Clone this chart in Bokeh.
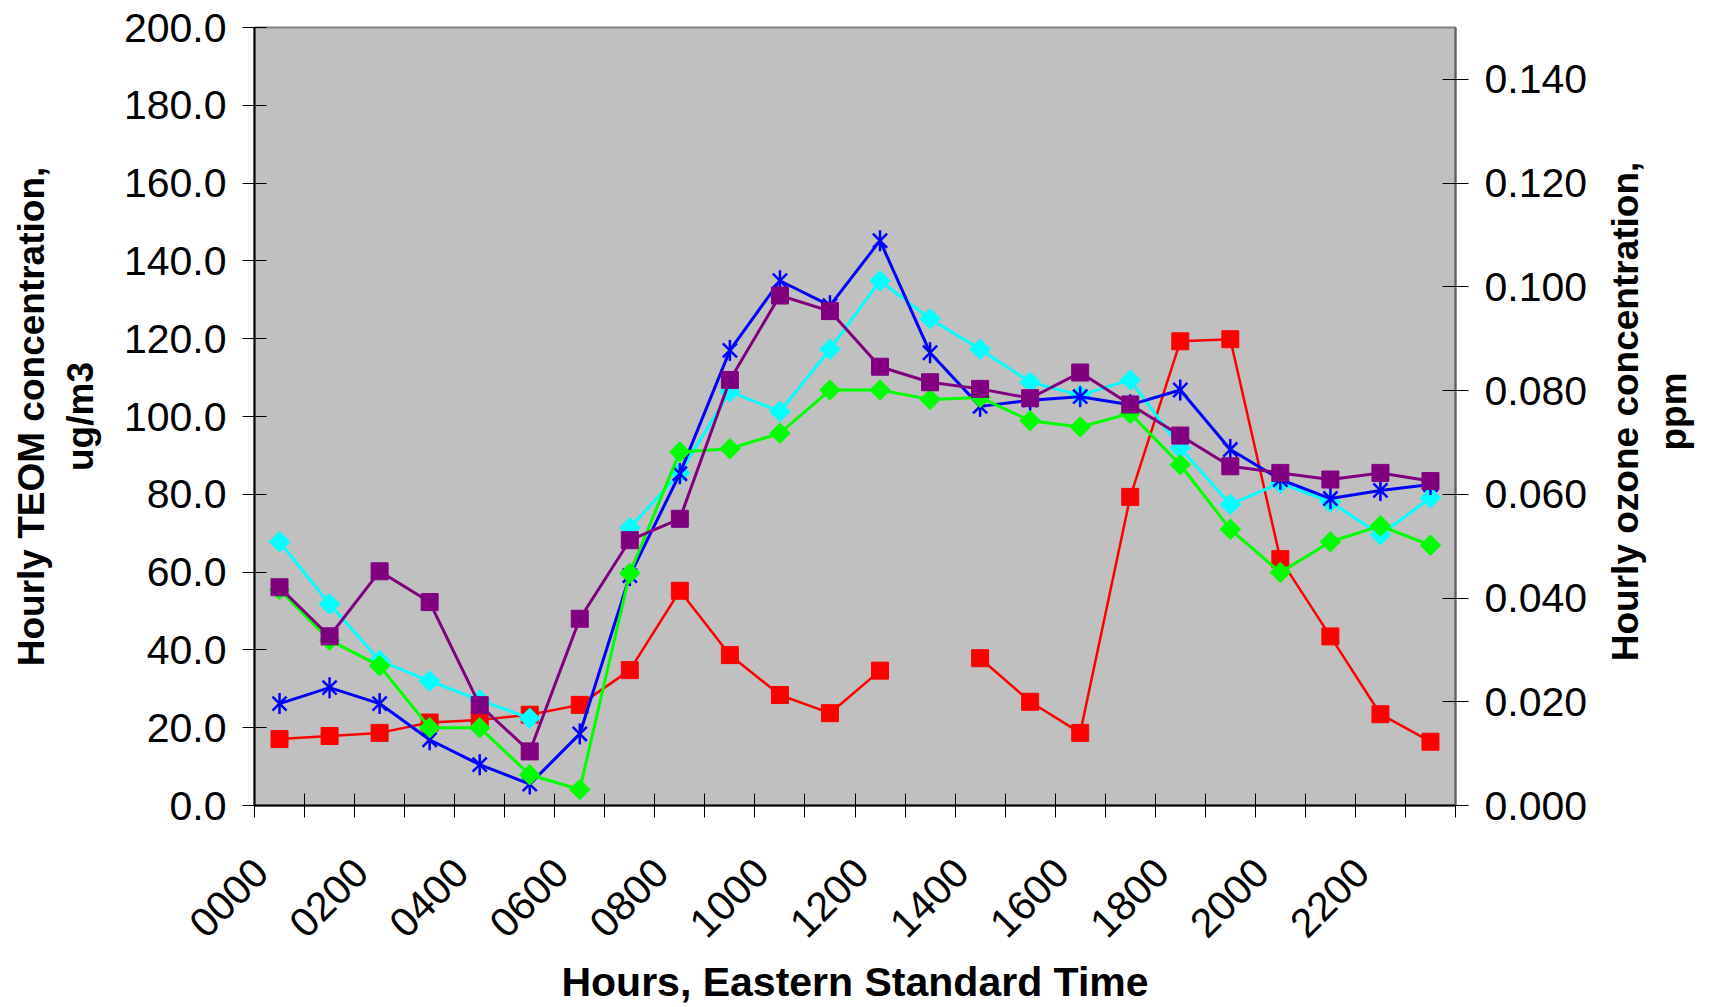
import numpy as np
from bokeh.plotting import figure
from bokeh.models import Range1d, LinearAxis, FixedTicker, NumeralTickFormatter, ColumnDataSource, Label
from bokeh.embed import file_html
from bokeh.resources import INLINE

# ---------------- data ----------------
hours = list(range(24))
hour_labels = ["0000", "0200", "0400", "0600", "0800", "1000",
               "1200", "1400", "1600", "1800", "2000", "2200"]
label_hours = [0, 2, 4, 6, 8, 10, 12, 14, 16, 18, 20, 22]

# Hourly TEOM concentration, ug/m3 (left axis)
teom_cyan = [67.8, 51.8, 37.3, 32.0, 27.1, 22.4, np.nan, 71.4, 85.5, 106.4, 101.3, 117.3,
             134.9, 125.1, 117.3, 108.8, 105.5, 109.4, 91.9, 77.4, 82.9, 78.0, 69.6, 79.1]
teom_blue = [26.2, 30.3, 26.2, 16.9, 10.5, 5.5, 18.4, 59.1, 85.3, 117.0, 134.9, 128.5,
             145.2, 116.4, 102.6, 104.2, 105.1, 103.0, 106.8, 91.5, 83.8, 78.9, 81.0, 82.5]
teom_green = [55.5, 42.5, 35.9, 20.0, 20.0, 7.9, 4.1, 59.7, 90.9, 91.7, 95.7, 106.8,
              106.8, 104.4, 104.9, 98.9, 97.3, 100.8, 87.6, 71.0, 59.9, 67.8, 71.9, 66.9]
teom_purple = [56.1, 43.5, 60.2, 52.3, 25.8, 13.9, 48.0, 68.2, 73.7, 109.4, 131.1, 127.1,
               112.8, 108.8, 107.1, 104.7, 111.3, 103.1, 95.1, 87.2, 85.5, 83.8, 85.5, 83.4]

# Hourly ozone concentration, ppm (right axis)
ozone_red = [0.0128, 0.0134, 0.0140, 0.0160, 0.0165, 0.0175, 0.0194, 0.0261, 0.0414, 0.0290,
             0.0213, 0.0178, 0.0260, np.nan, 0.0284, 0.0200, 0.0140, 0.0595, 0.0895, 0.0899,
             0.0475, 0.0326, 0.0176, 0.0123]

left_ticks = [0, 20, 40, 60, 80, 100, 120, 140, 160, 180, 200]
right_ticks = [0.0, 0.02, 0.04, 0.06, 0.08, 0.10, 0.12, 0.14]

# ---------------- figure ----------------
FONT = "Liberation Sans"

p = figure(width=1702, height=1007, output_backend="svg", toolbar_location=None,
           x_range=Range1d(0, 24), y_range=Range1d(0, 200),
           min_border_left=254, min_border_right=247, min_border_top=27, min_border_bottom=190)
p.extra_y_ranges = {"oz": Range1d(0, 0.15)}

p.background_fill_color = "#C0C0C0"
p.border_fill_color = "white"
p.outline_line_color = "#808080"
p.outline_line_width = 2
p.xgrid.visible = False
p.ygrid.visible = False

xc = [h + 0.5 for h in hours]
src = ColumnDataSource(dict(x=xc, cyan=teom_cyan, blue=teom_blue, green=teom_green,
                            purple=teom_purple, red=ozone_red))

# red (ozone) – right axis
p.line("x", "red", source=src, line_color="#FF0000", line_width=2.5, y_range_name="oz")
p.scatter("x", "red", source=src, marker="square", size=17, fill_color="#FF0000",
          line_color="#FF0000", y_range_name="oz")
# cyan
p.line("x", "cyan", source=src, line_color="#00FFFF", line_width=3)
p.scatter("x", "cyan", source=src, marker="square", angle=np.pi / 4, size=14.5,
          fill_color="#00FFFF", line_color="#00FFFF")
# blue
p.line("x", "blue", source=src, line_color="#0000FF", line_width=3)
p.scatter("x", "blue", source=src, marker="x", size=20, line_color="#0000FF", line_width=2.5)
p.scatter("x", "blue", source=src, marker="dash", angle=np.pi / 2, size=21,
          line_color="#0000FF", line_width=2.5)
# green
p.line("x", "green", source=src, line_color="#00FF00", line_width=3)
p.scatter("x", "green", source=src, marker="square", angle=np.pi / 4, size=14.5,
          fill_color="#00FF00", line_color="#00FF00")
# purple
p.line("x", "purple", source=src, line_color="#800080", line_width=3)
p.scatter("x", "purple", source=src, marker="square", size=17, fill_color="#800080",
          line_color="#800080")

# ---------------- axes ----------------
LABEL_SHIFT = 0.13  # where the slanted label ends, relative to the category start
xa = p.xaxis[0]
xa.ticker = FixedTicker(ticks=[h + LABEL_SHIFT for h in label_hours], minor_ticks=list(range(25)))
xa.major_label_overrides = {h + LABEL_SHIFT: lab for h, lab in zip(label_hours, hour_labels)}
xa.major_label_orientation = np.pi / 4
xa.major_tick_in = 0
xa.major_tick_out = 0
xa.minor_tick_in = 12
xa.minor_tick_out = 12
xa.minor_tick_line_color = "black"
xa.minor_tick_line_width = 1
xa.axis_line_width = 2
xa.axis_line_color = "black"
xa.major_label_text_font = FONT
xa.major_label_text_font_size = "41px"
xa.major_label_text_color = "black"
xa.major_label_standoff = 48
xa.axis_label = "Hours, Eastern Standard Time"
xa.axis_label_text_font = FONT
xa.axis_label_text_font_style = "bold"
xa.axis_label_text_font_size = "41px"
xa.axis_label_text_color = "black"
xa.axis_label_standoff = 6

ya = p.yaxis[0]
ya.ticker = FixedTicker(ticks=left_ticks)
ya.formatter = NumeralTickFormatter(format="0.0")
ya.major_tick_in = 12
ya.major_tick_out = 12
ya.major_tick_line_color = "black"
ya.minor_tick_line_color = None
ya.axis_line_width = 2
ya.axis_line_color = "black"
ya.major_label_text_font = FONT
ya.major_label_text_font_size = "41px"
ya.major_label_text_color = "black"
ya.major_label_standoff = 16
ya.axis_label = "Hourly TEOM concentration,\nug/m3"
ya.axis_label_text_font = FONT
ya.axis_label_text_font_style = "bold"
ya.axis_label_text_font_size = "37px"
ya.axis_label_text_color = "black"
ya.axis_label_standoff = 20

ra = LinearAxis(y_range_name="oz", ticker=FixedTicker(ticks=right_ticks),
                formatter=NumeralTickFormatter(format="0.000"))
ra.major_tick_in = 13
ra.major_tick_out = 13
ra.major_tick_line_color = "black"
ra.minor_tick_line_color = None
ra.axis_line_width = 2
ra.axis_line_color = "#606060"
ra.major_label_text_font = FONT
ra.major_label_text_font_size = "41px"
ra.major_label_text_color = "black"
ra.major_label_standoff = 16
p.add_layout(ra, "right")

# right-hand axis title (reads bottom-to-top, like the left one), placed in the right panel
for txt, xpos in [("Hourly ozone concentration,", 27.40), ("ppm", 28.35)]:
    p.add_layout(Label(x=xpos, y=101.3, text=txt, angle=np.pi / 2,
                       text_align="center", text_baseline="middle",
                       text_font=FONT, text_font_style="bold", text_font_size="37px",
                       text_color="black"), "right")

open("out.html", "w").write(file_html(p, INLINE))
